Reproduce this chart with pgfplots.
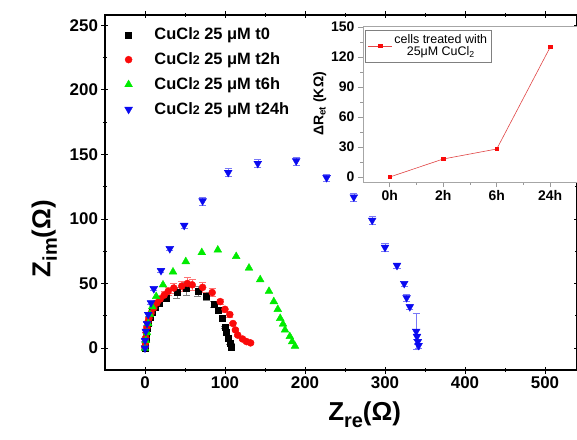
\documentclass[border=0pt]{standalone}
\usepackage{fontspec}
\setmainfont{Liberation Sans}
\usepackage{pgfplots}
\pgfplotsset{compat=1.18}
\usepackage{pgfplotstable}

\definecolor{ngreen}{RGB}{0,235,0}
\definecolor{nblue}{RGB}{10,10,240}
\definecolor{nred}{RGB}{250,10,10}
\definecolor{insetred}{RGB}{225,70,70}

% x  y  err
\pgfplotstableread{
x y e
0 0 1
0.5 3 1
1 7 1
2 11 1
3 15 1
4 19 1
6 24 1
9 28 1.5
13 32 2
18 35 2
27 39 3
40 43 4
52 46 5
66 44 4
77 40 3
86 34 2
92 29 2
97 23 1.5
100 16 1
102 12 1
104 8 1
106 4 1
108 1 3
}\tzero

\pgfplotstableread{
x y e
0 1 1
0.5 4 1
1 8 1
1.5 12 1
2.5 16 1
3.5 20 1
5 23 1
7.5 27 1
11 31 1.5
15 35 2
19 38 2
24 41 3
29 44 3
36 46.5 4
46 48 4
53 50 5
59 49 4
72 47 4
84 43 3
94 36 2
100 30 2
106 26 2
110 19 1
113 14 1
116 10 1
122 7 1
127 5 1
132 4 1
}\ttwo

\pgfplotstableread{
x y
0 0
1 6
2.5 12
4 19
6 26
9 32
14 40
22.5 49
35 59
51 67
71 74
91 76
114 71
130 62
144 53
155 44
161 36
166 30
169 23
172.5 18.6
175 14
181 9
184 5
187.5 1.5
}\tsix

\pgfplotstableread{
x y e
0 0 1
0 6 1
1 13 1
2.5 19 1
4 26 1
7.5 35 1
11 46 1.5
20 60 1.5
31 77 1.5
49 95 2
72 114 3
104 136 3
141 143 3
189 145 3
227 132 3
261 117 3
284 99 3
300 78 3
315 64 2
324 50 2
327 39 3
331 32 2
339 13 14
340 9 2
341 5 2
342 2 2
}\ttwentyfour

\begin{document}
\begin{tikzpicture}
\useasboundingbox (-105bp,-70bp) rectangle (472bp,370bp);
\begin{axis}[
  at={(0,0)}, anchor=south west,
  scale only axis, width=472bp, height=355bp,
  xmin=-50, xmax=540, ymin=-17, ymax=258,
  xtick={0,100,...,500}, minor x tick num=1,
  ytick={0,50,...,250}, minor y tick num=1,
  tick align=center,
  major tick length=7bp, minor tick length=4bp,
  axis line style={line width=1.1pt},
  every tick/.style={black, line width=0.9pt},
  /pgf/number format/assume math mode=true,
  ticklabel style={font=\bfseries\fontsize{17}{20}\selectfont},
  xlabel={\bfseries\fontsize{26}{30}\selectfont Z\raisebox{-0.25em}{\fontsize{20}{20}\selectfont re}(Ω)},
  ylabel={\bfseries\fontsize{26}{30}\selectfont Z\raisebox{-0.25em}{\fontsize{20}{20}\selectfont im}(Ω)},
  xlabel style={at={(ticklabel cs:0.55)}, yshift=-6bp},
  ylabel style={at={(ticklabel cs:0.37)}, yshift=6bp},
  legend style={draw=none, fill=none, at={(0.035,0.975)}, anchor=north west,
    font=\bfseries\fontsize{16.5}{18}\selectfont,
    /tikz/row sep=7.5bp,
    /tikz/every odd column/.append style={column sep=20bp}},
  legend cell align=left,
  error bars/error bar style={line width=0.6pt},
]
\addplot[only marks, mark=square*, mark size=3bp, black,
  error bars/.cd, y dir=both, y explicit,
  error bar style={gray}, error mark options={rotate=90, mark size=3.5bp, gray}]
  table[x=x, y=y, y error=e] {\tzero};
\addplot[only marks, mark=*, mark size=3.5bp, nred,
  error bars/.cd, y dir=both, y explicit,
  error bar style={red!55}, error mark options={rotate=90, mark size=3.5bp, red!55}]
  table[x=x, y=y, y error=e] {\ttwo};
\addplot[only marks, mark=triangle*, mark size=4.5bp, ngreen]
  table[x=x, y=y] {\tsix};
\addplot[only marks, mark=triangle*, mark options={rotate=180}, mark size=4.5bp, nblue,
  error bars/.cd, y dir=both, y explicit,
  error bar style={nblue!55}, error mark options={rotate=90, mark size=3.5bp, nblue!55}]
  table[x=x, y=y, y error=e] {\ttwentyfour};
\addlegendentry{CuCl{\fontsize{12.5}{12}\selectfont 2} 25 μM t0}
\addlegendentry{CuCl{\fontsize{12.5}{12}\selectfont 2} 25 μM t2h}
\addlegendentry{CuCl{\fontsize{12.5}{12}\selectfont 2} 25 μM t6h}
\addlegendentry{CuCl{\fontsize{12.5}{12}\selectfont 2} 25 μM t24h}
\end{axis}

\begin{axis}[
  at={(258bp,188bp)}, anchor=south west,
  scale only axis, width=214bp, height=156bp,
  xmin=-0.5, xmax=3.5, ymin=-5, ymax=151,
  xtick={0,1,2,3}, xticklabels={0h,2h,6h,24h},
  minor x tick num=1,
  ytick={0,30,...,150}, minor y tick num=1,
  xtick pos=bottom, ytick pos=left,
  tick align=outside,
  major tick length=5bp, minor tick length=3bp,
  axis background/.style={fill=white},
  axis line style={gray!70, line width=0.7pt},
  every tick/.style={gray!80, line width=0.6pt},
  /pgf/number format/assume math mode=true,
  ticklabel style={font=\bfseries\fontsize{14}{16}\selectfont},
  ylabel={\bfseries\fontsize{14}{16}\selectfont ΔR\textsubscript{et} (KΩ)},
  ylabel style={yshift=-2bp},
  legend style={draw=gray, fill=white, at={(0.01,0.975)}, anchor=north west,
    font=\fontsize{12.5}{14}\selectfont, inner sep=2.5bp},
  legend cell align=left,
  legend image code/.code={
    \draw[mark repeat=2, mark phase=2, #1] plot coordinates {(0bp,0bp) (12bp,0bp) (24bp,0bp)};},
]
\addplot[insetred, line width=0.6pt, mark=square*, mark size=1.8bp,
  mark options={fill=nred, draw=nred}]
  coordinates {(0,0) (1,18) (2,28) (3,130)};
\addlegendentry{\shortstack{cells treated with\\25μM CuCl\textsubscript{2}}}
\end{axis}
\end{tikzpicture}
\end{document}
